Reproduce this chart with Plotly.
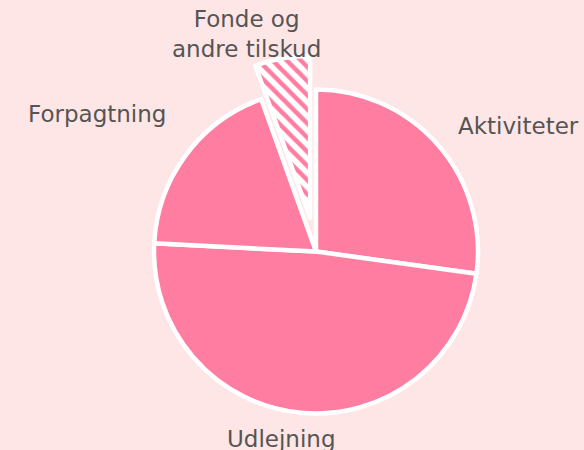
import plotly.graph_objects as go

categories = ["Aktiviteter", "Udlejning", "Forpagtning", "Fonde og andre tilskud"]
values = [27.2, 48.6, 18.7, 5.5]
label_texts = ["Aktiviteter", "Udlejning", "Forpagtning", "Fonde og<br>andre tilskud"]

W, H = 584, 450
PINK = "#FF7DA1"
BG = "#FFE6E6"
TXT = "#555555"
FONT = "DejaVu Sans"

def px(x):
    return x / W

def py(y):
    return 1 - y / H

fig = go.Figure(go.Pie(
    labels=categories,
    values=values,
    sort=False,
    direction="clockwise",
    rotation=0,
    pull=[0, 0, 0, 0.21],
    textinfo="none",
    hoverinfo="label+percent",
    marker=dict(
        colors=[PINK, PINK, PINK, "white"],
        line=dict(color="white", width=4.5),
        pattern=dict(
            shape=["", "", "", "\\"],
            fgcolor=PINK,
            bgcolor="white",
            size=10,
            solidity=0.45,
        ),
    ),
    domain=dict(x=[px(120), px(512)], y=[py(448), py(55)]),
    showlegend=False,
))

label_pos = [
    (456, 126, "left"),
    (281, 439, "center"),
    (168, 114, "right"),
    (246, 34, "center"),
]
for txt, (x, y, anc) in zip(label_texts, label_pos):
    fig.add_annotation(
        x=px(x), y=py(y), xref="paper", yref="paper",
        text=txt, showarrow=False, xanchor=anc, yanchor="middle",
        font=dict(family=FONT, size=23, color=TXT),
    )

fig.update_layout(
    width=W, height=H,
    margin=dict(l=0, r=0, t=0, b=0),
    paper_bgcolor=BG,
    plot_bgcolor=BG,
)

fig.write_html(
    "out.html",
    config={"displayModeBar": False},
    post_script="document.body.style.margin='0';document.body.style.background='" + BG + "';",
)
